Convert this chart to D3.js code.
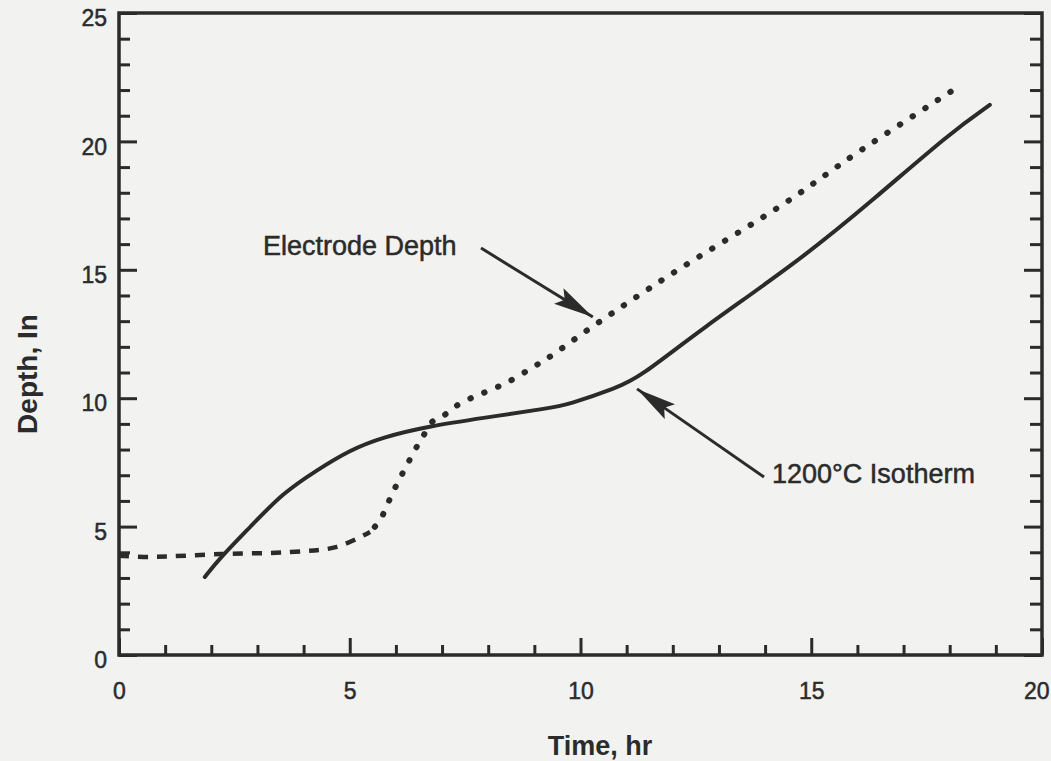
<!DOCTYPE html>
<meta charset="utf-8">
<script src="https://d3js.org/d3.v7.min.js"></script>
<style>
  body { margin: 0; background: #f2f2f0; }
  text { font-family: "Liberation Sans", Arial, sans-serif; fill: #2b2b2b; }
</style>
<svg id="chart" width="1051" height="761"></svg>
<script>

// Data
var electrodeTime  = [0, 0.67, 2.19, 3.71, 4.72, 5.44, 5.66, 5.81, 5.94, 6.09, 6.24, 6.41, 6.57, 6.78, 7.0, 7.24, 7.54, 7.89, 8.43, 8.97, 9.3, 10.31, 11.94, 14.43, 15.99, 18.18]
var electrodeDepth = [3.86, 3.82, 3.93, 4.01, 4.21, 4.79, 5.26, 5.84, 6.35, 6.89, 7.4, 7.98, 8.45, 9.07, 9.27, 9.62, 9.93, 10.2, 10.63, 11.21, 11.57, 12.85, 14.8, 17.6, 19.55, 22.12]

var isoTime  = [1.86, 2.19, 2.84, 3.55, 4.29, 5.0, 5.72, 6.74, 7.89, 9.34, 9.71, 10.79, 11.29, 12.59, 14.76, 16.34, 18.01, 18.87]
var isoDepth = [3.04, 3.78, 4.98, 6.31, 7.2, 7.98, 8.49, 8.92, 9.23, 9.62, 9.74, 10.4, 10.83, 12.66, 15.38, 17.72, 20.33, 21.42]

var xMajor = [0, 5, 10, 15, 20]
var yMajor = [0, 5, 10, 15, 20, 25]

var ink = "#2b2b2b"

var svg = d3.select("#chart")

// scales
var x = d3.scaleLinear().domain([0, 20]).range([119, 1042])
var y = d3.scaleLinear().domain([0, 25]).range([655, 13])

var xMinor = d3.range(0, 21).filter(function(d){ return d % 5 != 0 })
var yMinor = d3.range(0, 26).filter(function(d){ return d % 5 != 0 })

// arrow head
svg.append("defs").append("marker")
    .attr("id", "head")
    .attr("viewBox", "0 0 40 20")
    .attr("refX", 40).attr("refY", 10)
    .attr("markerWidth", 40).attr("markerHeight", 20)
    .attr("markerUnits", "userSpaceOnUse")
    .attr("orient", "auto")
  .append("path")
    .attr("d", "M0,1 L40,10 L0,19 L7,10 Z")
    .attr("fill", ink)

function styleAxis(g) {
  g.select(".domain").remove()
  g.selectAll(".tick line").attr("stroke", ink).attr("stroke-width", 3)
  g.selectAll("text").style("font-size", "23px").attr("fill", ink)
    .attr("stroke", ink).attr("stroke-width", 0.5)
}

// minor ticks (inward)
svg.append("g").attr("transform", "translate(0," + y(0) + ")")
  .call(d3.axisBottom(x).tickValues(xMinor).tickSize(-10).tickFormat(""))
  .call(styleAxis)
svg.append("g").attr("transform", "translate(" + x(0) + ",0)")
  .call(d3.axisLeft(y).tickValues(yMinor).tickSize(-11).tickFormat(""))
  .call(styleAxis)
svg.append("g").attr("transform", "translate(" + x(20) + ",0)")
  .call(d3.axisRight(y).tickValues(yMinor).tickSize(-12).tickFormat(""))
  .call(styleAxis)

// major ticks with labels
svg.append("g").attr("transform", "translate(0," + y(0) + ")")
  .call(d3.axisBottom(x).tickValues(xMajor).tickSize(-17).tickPadding(28).tickFormat(d3.format("d")))
  .call(styleAxis)
  .call(function(g){
    g.selectAll("text").filter(function(d){ return d == 20 })
      .attr("text-anchor", "end").attr("dx", 7)
  })
svg.append("g").attr("transform", "translate(" + x(0) + ",0)")
  .call(d3.axisLeft(y).tickValues(yMajor).tickSize(-18).tickPadding(12).tickFormat(d3.format("d")))
  .call(styleAxis)
  .call(function(g){ g.selectAll("text").attr("dy", "0.55em") })
svg.append("g").attr("transform", "translate(" + x(20) + ",0)")
  .call(d3.axisRight(y).tickValues(yMajor).tickSize(-18).tickFormat(""))
  .call(styleAxis)

// frame
svg.append("rect")
    .attr("x", x(0)).attr("y", y(25))
    .attr("width", x(20) - x(0)).attr("height", y(0) - y(25))
    .attr("fill", "none")
    .attr("stroke", ink)
    .attr("stroke-width", 3.5)

// lines
var smooth = d3.line()
    .x(function(d){ return x(d[0]) })
    .y(function(d){ return y(d[1]) })
    .curve(d3.curveBasis)

var line = d3.line()
    .x(function(d){ return x(d[0]) })
    .y(function(d){ return y(d[1]) })
    .curve(d3.curveCatmullRom.alpha(0.5))

var electrode = electrodeTime.map(function(t, i){ return [t, electrodeDepth[i]] })
var iso = isoTime.map(function(t, i){ return [t, isoDepth[i]] })

svg.append("path")
    .datum(iso)
    .attr("d", smooth)
    .attr("fill", "none")
    .attr("stroke", ink)
    .attr("stroke-width", 4)
    .attr("stroke-linecap", "round")

// electrode depth: dashes on the flat part, dots afterwards
svg.append("path")
    .datum(electrode.filter(function(d){ return d[0] <= 5.44 }))
    .attr("d", line)
    .attr("fill", "none")
    .attr("stroke", ink)
    .attr("stroke-width", 4.5)
    .attr("stroke-dasharray", "10,9")

svg.append("path")
    .datum(electrode.filter(function(d){ return d[0] >= 5.44 }))
    .attr("d", line)
    .attr("fill", "none")
    .attr("stroke", ink)
    .attr("stroke-width", 6)
    .attr("stroke-linecap", "round")
    .attr("stroke-dasharray", "0.5,14.5")
    .attr("stroke-dashoffset", -7)

// annotations
svg.append("text")
    .attr("x", 263).attr("y", 255)
    .style("font-size", "27px")
    .attr("stroke", ink).attr("stroke-width", 0.5)
    .text("Electrode Depth")

svg.append("line")
    .attr("x1", 481).attr("y1", 248)
    .attr("x2", x(10.31) - 2).attr("y2", y(12.85) - 8)
    .attr("stroke", ink).attr("stroke-width", 3)
    .attr("marker-end", "url(#head)")

svg.append("text")
    .attr("x", 772).attr("y", 483)
    .style("font-size", "27px")
    .attr("stroke", ink).attr("stroke-width", 0.5)
    .text("1200°C Isotherm")

svg.append("line")
    .attr("x1", 764).attr("y1", 477)
    .attr("x2", x(11.29) - 3).attr("y2", y(10.83) + 12)
    .attr("stroke", ink).attr("stroke-width", 3)
    .attr("marker-end", "url(#head)")

// axis titles
svg.append("text")
    .attr("x", 600).attr("y", 755)
    .attr("text-anchor", "middle")
    .style("font-size", "27px")
    .style("font-weight", "bold")
    .text("Time, hr")

svg.append("text")
    .attr("transform", "translate(37,374) rotate(-90)")
    .attr("text-anchor", "middle")
    .style("font-size", "28px")
    .style("font-weight", "bold")
    .text("Depth, In")

</script>
